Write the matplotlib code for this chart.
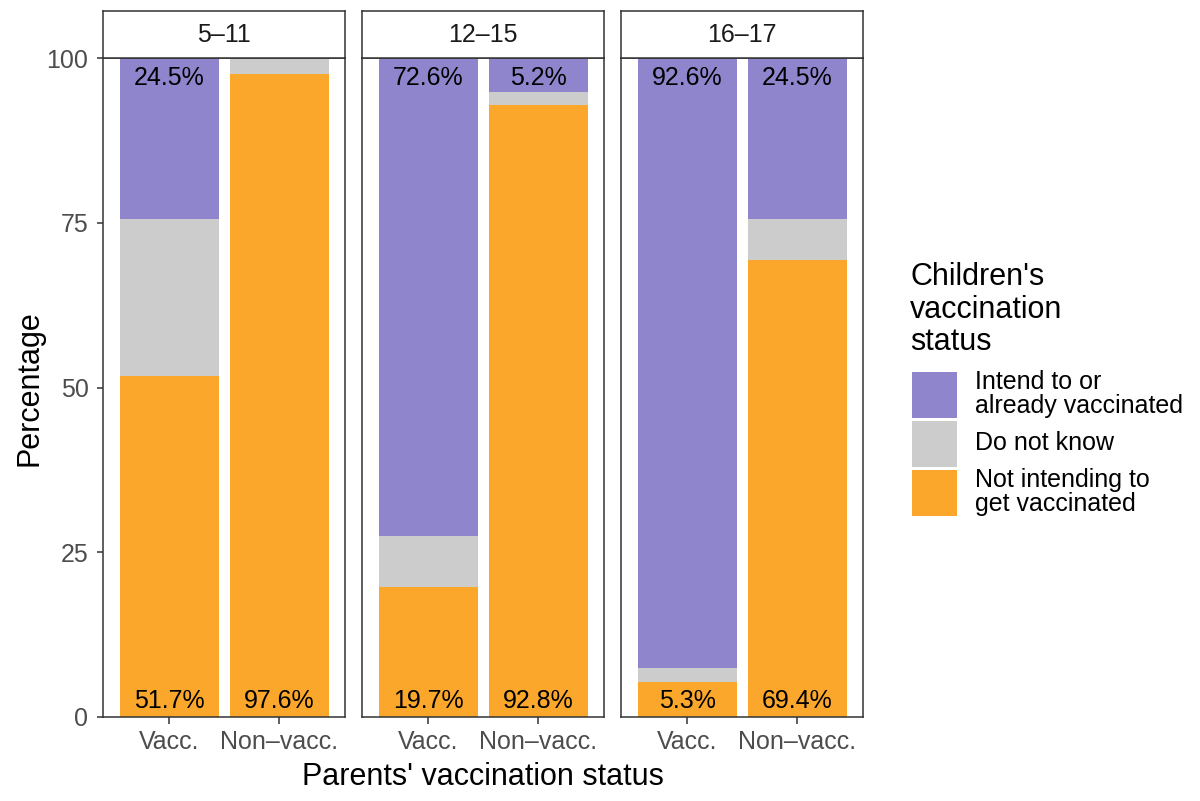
import matplotlib
matplotlib.use("Agg")
import numpy as np
import matplotlib.pyplot as plt
from matplotlib.patches import Rectangle

plt.rcParams['font.family'] = ['Liberation Sans', 'DejaVu Sans']

# data
age_groups = ['5–11', '12–15', '16–17']
parents = ['Vacc.', 'Non–vacc.']
not_intending = [[51.7, 97.6], [19.7, 92.8], [5.3, 69.4]]
do_not_know = [[23.8, 2.4], [7.7, 2.0], [2.1, 6.1]]
intend = [[24.5, 0.0], [72.6, 5.2], [92.6, 24.5]]

categories = ['Intend to or\nalready vaccinated', 'Do not know',
              'Not intending to\nget vaccinated']
colors = ['#8e85cd', '#cccccc', '#fba72b']

W, H = 1200, 801
fig = plt.figure(figsize=(W / 100, H / 100), dpi=100)

panel_left = [103, 362, 621]
panel_w = 242
panel_top, panel_bot = 58, 717
strip_top = 11
frame_col = '#333333'
tick_col = '#4d4d4d'

x = np.arange(len(parents))
for i, grp in enumerate(age_groups):
    ax = fig.add_axes([panel_left[i] / W, (H - panel_bot) / H,
                       panel_w / W, (panel_bot - panel_top) / H])
    ni = np.array(not_intending[i])
    dk = np.array(do_not_know[i])
    it = np.array(intend[i])
    ax.bar(x, ni, width=0.9, color=colors[2], zorder=2)
    ax.bar(x, dk, bottom=ni, width=0.9, color=colors[1], zorder=2)
    ax.bar(x, it, bottom=ni + dk, width=0.9, color=colors[0], zorder=2)
    for j in range(len(parents)):
        if it[j] > 0:
            ax.text(x[j], 96.9, f'{it[j]:.1f}%', ha='center', va='center',
                    fontsize=18, color='black', zorder=3)
        ax.text(x[j], 2.5, f'{ni[j]:.1f}%', ha='center', va='center',
                fontsize=18, color='black', zorder=3)
    ax.set_xlim(-0.6, 1.6)
    ax.set_ylim(0, 100)
    ax.set_xticks(x)
    ax.set_xticklabels(parents, fontsize=18, color=tick_col)
    ax.set_yticks([0, 25, 50, 75, 100])
    ax.tick_params(axis='x', colors=frame_col, labelcolor=tick_col,
                   length=5, width=1.1, pad=4.5)
    if i == 0:
        ax.set_yticklabels(['0', '25', '50', '75', '100'], fontsize=18, color=tick_col)
        ax.tick_params(axis='y', colors=frame_col, labelcolor=tick_col,
                       length=4.5, width=1.1, pad=6)
    else:
        ax.set_yticklabels([])
        ax.tick_params(axis='y', length=0)
    for s in ax.spines.values():
        s.set_color(frame_col)
        s.set_linewidth(1.1)
    ax.set_facecolor('white')

    # facet strip
    sax = fig.add_axes([panel_left[i] / W, (H - panel_top) / H,
                        panel_w / W, (panel_top - strip_top) / H])
    sax.set_xticks([])
    sax.set_yticks([])
    for s in sax.spines.values():
        s.set_color(frame_col)
        s.set_linewidth(1.1)
    sax.text(0.5, 0.5, grp, ha='center', va='center', fontsize=18,
             color='#1a1a1a', transform=sax.transAxes)

fig.text((103 + 863) / 2 / W, (H - 777) / H, "Parents' vaccination status",
         ha='center', va='center', fontsize=22)
fig.text(30 / W, (H - 388) / H, 'Percentage', ha='center', va='center',
         rotation=90, fontsize=22)

# legend, drawn by hand to match the ggplot layout
fig.text(910 / W, (H - 350) / H, "Children's\nvaccination\nstatus",
         ha='left', va='baseline', fontsize=22, linespacing=1.1)
key_w, key_h, key_gap = 45, 46, 3
key_x, key_y = 912, 372
for k, (lab, col) in enumerate(zip(categories, colors)):
    y0 = key_y + k * (key_h + key_gap)
    fig.patches.append(Rectangle((key_x / W, (H - y0 - key_h) / H),
                                 key_w / W, key_h / H, facecolor=col,
                                 edgecolor='none', transform=fig.transFigure))
    fig.text(975 / W, (H - y0 - key_h / 2 + 1) / H, lab, ha='left', va='center',
             fontsize=18, linespacing=1.0)

fig.savefig('out.png', dpi=100, facecolor='white')
